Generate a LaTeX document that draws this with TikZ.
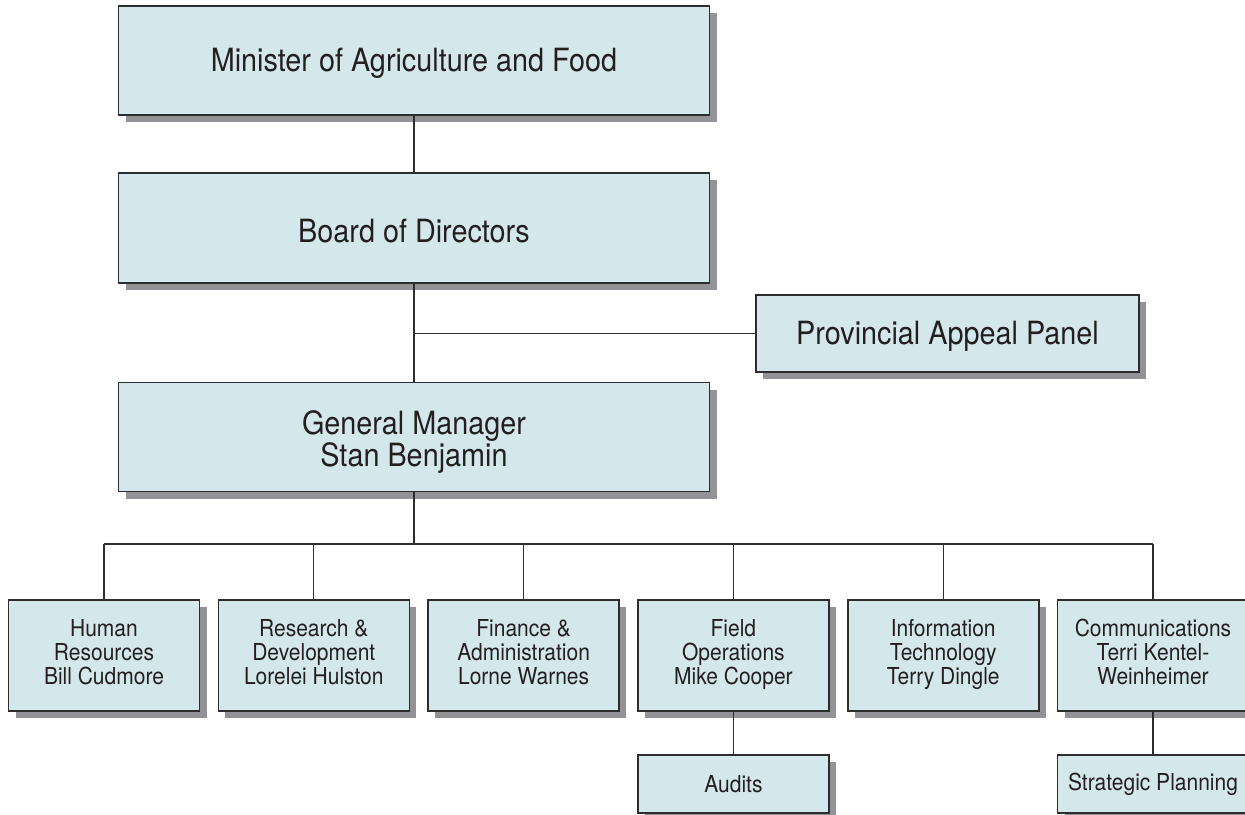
\documentclass[tikz,border=0pt]{standalone}
\usepackage{fontspec}
\setmainfont[FakeStretch=0.9]{TeX Gyre Heros}
\usetikzlibrary{shadows}

\definecolor{boxfill}{RGB}{212,232,236}
\definecolor{boxline}{RGB}{45,45,45}
\definecolor{shadowgray}{RGB}{146,146,151}
\definecolor{textcol}{RGB}{35,31,32}

\tikzset{every picture/.style={line width=0.75pt}}
\tikzset{
  orgbox/.style={draw=boxline, line width=1.2pt, fill=boxfill, text=textcol, align=center, inner sep=0pt,
    general shadow={fill=shadowgray, shadow xshift=5.25pt, shadow yshift=-5.25pt}},
  bigbox/.style={orgbox, minimum width=443.25pt, minimum height=81.75pt, text height=22pt, font=\fontsize{24}{24}\selectfont},
  deptbox/.style={orgbox, minimum width=143.25pt, minimum height=83.25pt, text depth=5pt, font=\fontsize{17.5}{18}\selectfont},
  subbox/.style={orgbox, minimum width=143.25pt, minimum height=43.5pt, font=\fontsize{17.5}{18}\selectfont},
  link/.style={draw=boxline, line width=0.9pt}
}

\begin{document}
\begin{tikzpicture}[x=0.75pt,y=0.75pt,yscale=-1,xscale=1]
        \useasboundingbox (0,0) rectangle (1245,814);

        %Shape: Rectangle (top of the chart)
        \node [bigbox] (minister) at (414,60.5) {Minister of Agriculture and Food};
        \node [bigbox, minimum height=82.5pt] (board) at (414,228) {Board of Directors};
        \node [bigbox, minimum width=287.25pt, minimum height=57.75pt] (appeal) at (947.5,333.5) {Provincial Appeal Panel};
        \node [bigbox, text height=49pt] (gm) at (414,437) {General Manager\\Stan Benjamin};

        %Shape: Rectangle (departments)
        \node [deptbox] (hr) at (104,655.5) {Human\\Resources\\Bill Cudmore};
        \node [deptbox] (rd) at (313.8,655.5) {Research \&\\Development\\Lorelei Hulston};
        \node [deptbox] (fin) at (523.6,655.5) {Finance \&\\Administration\\Lorne Warnes};
        \node [deptbox] (field) at (733.4,655.5) {Field\\Operations\\Mike Cooper};
        \node [deptbox] (it) at (943.2,655.5) {Information\\Technology\\Terry Dingle};
        \node [deptbox] (comm) at (1153,655.5) {Communications\\Terri Kentel-\\Weinheimer};

        %Shape: Rectangle (units below)
        \node [subbox] (audits) at (733.4,784) {Audits};
        \node [subbox] (strat) at (1153,784) {Strategic Planning};

        %Straight Lines
        \coordinate (bus) at (414,544);
        \draw [link] (minister.south) -- (board.north);
        \draw [link] (board.south) -- (gm.north);
        \draw [link] (appeal.west) -- (appeal.west -| board.south);
        \draw [link] (gm.south) -- (bus);
        \draw [link] (hr.north |- bus) -- (comm.north |- bus);
        \draw [link] (hr.north) -- (hr.north |- bus);
        \draw [link] (rd.north) -- (rd.north |- bus);
        \draw [link] (fin.north) -- (fin.north |- bus);
        \draw [link] (field.north) -- (field.north |- bus);
        \draw [link] (it.north) -- (it.north |- bus);
        \draw [link] (comm.north) -- (comm.north |- bus);
        \draw [link] (field.south) -- (audits.north);
        \draw [link] (comm.south) -- (strat.north);
\end{tikzpicture}
\end{document}
